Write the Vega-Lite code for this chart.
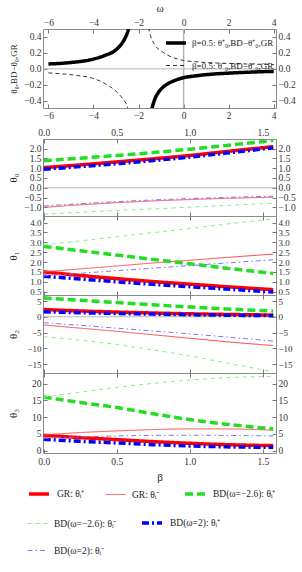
{
"$schema":"https://vega.github.io/schema/vega-lite/v6.json",
"background":"white",
"padding":{"left":6,"right":2,"top":1,"bottom":2},
"config":{
 "font":"Liberation Serif",
 "view":{"stroke":"#8c8c8c","strokeWidth":1},
 "axis":{"labelFont":"Liberation Serif","labelFontSize":9.5,"labelColor":"#333","titleFont":"Liberation Serif","titleFontSize":11,"titleFontWeight":"normal","titleColor":"#222","grid":false,"domain":false,"tickColor":"#777","tickSize":-4,"labelPadding":6,"labelFlush":false,"labelOverlap":false},
 "axisLeft":{"minExtent":20,"maxExtent":20,"titlePadding":5},
 "legend":{"labelFont":"Liberation Serif","labelFontSize":9.5,"labelColor":"#222","symbolType":"stroke","symbolSize":400,"padding":0,"layout":{"bottom":{"anchor":"end","direction":"vertical","margin":10,"bounds":"flush"}}}
},
"datasets":{
"w":[
{"c":"p","g":1,"w":-6,"v":0.062},{"c":"p","g":1,"w":-5,"v":0.08},{"c":"p","g":1,"w":-4,"v":0.123},{"c":"p","g":1,"w":-3.5,"v":0.168},{"c":"p","g":1,"w":-3,"v":0.24},{"c":"p","g":1,"w":-2.75,"v":0.315},{"c":"p","g":1,"w":-2.6,"v":0.385},{"c":"p","g":1,"w":-2.5,"v":0.45},{"c":"p","g":1,"w":-2.42,"v":0.52},
{"c":"p","g":2,"w":-1.42,"v":-0.51},{"c":"p","g":2,"w":-1.35,"v":-0.44},{"c":"p","g":2,"w":-1.25,"v":-0.36},{"c":"p","g":2,"w":-1.13,"v":-0.3},{"c":"p","g":2,"w":-1,"v":-0.253},{"c":"p","g":2,"w":-0.75,"v":-0.195},{"c":"p","g":2,"w":-0.5,"v":-0.158},{"c":"p","g":2,"w":-0.25,"v":-0.13},{"c":"p","g":2,"w":0,"v":-0.11},{"c":"p","g":2,"w":0.5,"v":-0.088},{"c":"p","g":2,"w":1,"v":-0.072},{"c":"p","g":2,"w":1.5,"v":-0.061},{"c":"p","g":2,"w":2,"v":-0.053},{"c":"p","g":2,"w":2.5,"v":-0.046},{"c":"p","g":2,"w":3,"v":-0.04},{"c":"p","g":2,"w":3.5,"v":-0.035},{"c":"p","g":2,"w":4,"v":-0.031},
{"c":"m","g":1,"w":-6,"v":-0.05},{"c":"m","g":1,"w":-5.4,"v":-0.062},{"c":"m","g":1,"w":-4.7,"v":-0.083},{"c":"m","g":1,"w":-4,"v":-0.12},{"c":"m","g":1,"w":-3.45,"v":-0.19},{"c":"m","g":1,"w":-3,"v":-0.28},{"c":"m","g":1,"w":-2.7,"v":-0.375},{"c":"m","g":1,"w":-2.5,"v":-0.47},{"c":"m","g":1,"w":-2.45,"v":-0.52},
{"c":"m","g":2,"w":-1.56,"v":0.52},{"c":"m","g":2,"w":-1.45,"v":0.4},{"c":"m","g":2,"w":-1.3,"v":0.31},{"c":"m","g":2,"w":-1.13,"v":0.25},{"c":"m","g":2,"w":-1,"v":0.225},{"c":"m","g":2,"w":-0.76,"v":0.18},{"c":"m","g":2,"w":-0.5,"v":0.145},{"c":"m","g":2,"w":-0.25,"v":0.122},{"c":"m","g":2,"w":0,"v":0.105},{"c":"m","g":2,"w":0.5,"v":0.09},{"c":"m","g":2,"w":1,"v":0.08},{"c":"m","g":2,"w":1.5,"v":0.073},{"c":"m","g":2,"w":2,"v":0.068},{"c":"m","g":2,"w":2.5,"v":0.064},{"c":"m","g":2,"w":3,"v":0.06},{"c":"m","g":2,"w":3.5,"v":0.057},{"c":"m","g":2,"w":4,"v":0.055}
],
"t":[
{"p":0,"s":"GR: θᵢ⁺","b":0,"v":1.03},{"p":0,"s":"GR: θᵢ⁺","b":0.25,"v":1.17},{"p":0,"s":"GR: θᵢ⁺","b":0.5,"v":1.32},{"p":0,"s":"GR: θᵢ⁺","b":0.75,"v":1.48},{"p":0,"s":"GR: θᵢ⁺","b":1,"v":1.65},{"p":0,"s":"GR: θᵢ⁺","b":1.25,"v":1.85},{"p":0,"s":"GR: θᵢ⁺","b":1.571,"v":2.1},
{"p":0,"s":"GR: θᵢ⁻","b":0,"v":-1.0},{"p":0,"s":"GR: θᵢ⁻","b":0.25,"v":-0.87},{"p":0,"s":"GR: θᵢ⁻","b":0.5,"v":-0.76},{"p":0,"s":"GR: θᵢ⁻","b":0.75,"v":-0.67},{"p":0,"s":"GR: θᵢ⁻","b":1,"v":-0.6},{"p":0,"s":"GR: θᵢ⁻","b":1.25,"v":-0.54},{"p":0,"s":"GR: θᵢ⁻","b":1.571,"v":-0.48},
{"p":0,"s":"BD(ω=−2.6): θᵢ⁺","b":0,"v":1.38},{"p":0,"s":"BD(ω=−2.6): θᵢ⁺","b":0.25,"v":1.51},{"p":0,"s":"BD(ω=−2.6): θᵢ⁺","b":0.5,"v":1.65},{"p":0,"s":"BD(ω=−2.6): θᵢ⁺","b":0.75,"v":1.8},{"p":0,"s":"BD(ω=−2.6): θᵢ⁺","b":1,"v":1.97},{"p":0,"s":"BD(ω=−2.6): θᵢ⁺","b":1.25,"v":2.16},{"p":0,"s":"BD(ω=−2.6): θᵢ⁺","b":1.571,"v":2.42},
{"p":0,"s":"BD(ω=−2.6): θᵢ⁻","b":0,"v":-1.35},{"p":0,"s":"BD(ω=−2.6): θᵢ⁻","b":0.25,"v":-1.25},{"p":0,"s":"BD(ω=−2.6): θᵢ⁻","b":0.5,"v":-1.16},{"p":0,"s":"BD(ω=−2.6): θᵢ⁻","b":0.75,"v":-1.08},{"p":0,"s":"BD(ω=−2.6): θᵢ⁻","b":1,"v":-0.99},{"p":0,"s":"BD(ω=−2.6): θᵢ⁻","b":1.25,"v":-0.9},{"p":0,"s":"BD(ω=−2.6): θᵢ⁻","b":1.571,"v":-0.79},
{"p":0,"s":"BD(ω=2): θᵢ⁺","b":0,"v":0.95},{"p":0,"s":"BD(ω=2): θᵢ⁺","b":0.25,"v":1.08},{"p":0,"s":"BD(ω=2): θᵢ⁺","b":0.5,"v":1.23},{"p":0,"s":"BD(ω=2): θᵢ⁺","b":0.75,"v":1.39},{"p":0,"s":"BD(ω=2): θᵢ⁺","b":1,"v":1.57},{"p":0,"s":"BD(ω=2): θᵢ⁺","b":1.25,"v":1.77},{"p":0,"s":"BD(ω=2): θᵢ⁺","b":1.571,"v":2.04},
{"p":0,"s":"BD(ω=2): θᵢ⁻","b":0,"v":-0.93},{"p":0,"s":"BD(ω=2): θᵢ⁻","b":0.25,"v":-0.81},{"p":0,"s":"BD(ω=2): θᵢ⁻","b":0.5,"v":-0.71},{"p":0,"s":"BD(ω=2): θᵢ⁻","b":0.75,"v":-0.62},{"p":0,"s":"BD(ω=2): θᵢ⁻","b":1,"v":-0.55},{"p":0,"s":"BD(ω=2): θᵢ⁻","b":1.25,"v":-0.49},{"p":0,"s":"BD(ω=2): θᵢ⁻","b":1.571,"v":-0.43},
{"p":1,"s":"GR: θᵢ⁺","b":0,"v":1.5},{"p":1,"s":"GR: θᵢ⁺","b":0.25,"v":1.32},{"p":1,"s":"GR: θᵢ⁺","b":0.5,"v":1.16},{"p":1,"s":"GR: θᵢ⁺","b":0.75,"v":1.01},{"p":1,"s":"GR: θᵢ⁺","b":1,"v":0.88},{"p":1,"s":"GR: θᵢ⁺","b":1.25,"v":0.75},{"p":1,"s":"GR: θᵢ⁺","b":1.571,"v":0.6},
{"p":1,"s":"GR: θᵢ⁻","b":0,"v":1.5},{"p":1,"s":"GR: θᵢ⁻","b":0.25,"v":1.65},{"p":1,"s":"GR: θᵢ⁻","b":0.5,"v":1.8},{"p":1,"s":"GR: θᵢ⁻","b":0.75,"v":1.95},{"p":1,"s":"GR: θᵢ⁻","b":1,"v":2.09},{"p":1,"s":"GR: θᵢ⁻","b":1.25,"v":2.23},{"p":1,"s":"GR: θᵢ⁻","b":1.571,"v":2.4},
{"p":1,"s":"BD(ω=−2.6): θᵢ⁺","b":0,"v":2.79},{"p":1,"s":"BD(ω=−2.6): θᵢ⁺","b":0.25,"v":2.57},{"p":1,"s":"BD(ω=−2.6): θᵢ⁺","b":0.5,"v":2.35},{"p":1,"s":"BD(ω=−2.6): θᵢ⁺","b":0.75,"v":2.13},{"p":1,"s":"BD(ω=−2.6): θᵢ⁺","b":1,"v":1.91},{"p":1,"s":"BD(ω=−2.6): θᵢ⁺","b":1.25,"v":1.69},{"p":1,"s":"BD(ω=−2.6): θᵢ⁺","b":1.571,"v":1.42},
{"p":1,"s":"BD(ω=−2.6): θᵢ⁻","b":0,"v":2.86},{"p":1,"s":"BD(ω=−2.6): θᵢ⁻","b":0.25,"v":3.07},{"p":1,"s":"BD(ω=−2.6): θᵢ⁻","b":0.5,"v":3.28},{"p":1,"s":"BD(ω=−2.6): θᵢ⁻","b":0.75,"v":3.49},{"p":1,"s":"BD(ω=−2.6): θᵢ⁻","b":1,"v":3.7},{"p":1,"s":"BD(ω=−2.6): θᵢ⁻","b":1.25,"v":3.92},{"p":1,"s":"BD(ω=−2.6): θᵢ⁻","b":1.571,"v":4.18},
{"p":1,"s":"BD(ω=2): θᵢ⁺","b":0,"v":1.28},{"p":1,"s":"BD(ω=2): θᵢ⁺","b":0.25,"v":1.14},{"p":1,"s":"BD(ω=2): θᵢ⁺","b":0.5,"v":1.0},{"p":1,"s":"BD(ω=2): θᵢ⁺","b":0.75,"v":0.87},{"p":1,"s":"BD(ω=2): θᵢ⁺","b":1,"v":0.75},{"p":1,"s":"BD(ω=2): θᵢ⁺","b":1.25,"v":0.63},{"p":1,"s":"BD(ω=2): θᵢ⁺","b":1.571,"v":0.48},
{"p":1,"s":"BD(ω=2): θᵢ⁻","b":0,"v":1.3},{"p":1,"s":"BD(ω=2): θᵢ⁻","b":0.25,"v":1.43},{"p":1,"s":"BD(ω=2): θᵢ⁻","b":0.5,"v":1.56},{"p":1,"s":"BD(ω=2): θᵢ⁻","b":0.75,"v":1.69},{"p":1,"s":"BD(ω=2): θᵢ⁻","b":1,"v":1.82},{"p":1,"s":"BD(ω=2): θᵢ⁻","b":1.25,"v":1.95},{"p":1,"s":"BD(ω=2): θᵢ⁻","b":1.571,"v":2.11},
{"p":2,"s":"GR: θᵢ⁺","b":0,"v":2.3},{"p":2,"s":"GR: θᵢ⁺","b":0.25,"v":1.85},{"p":2,"s":"GR: θᵢ⁺","b":0.5,"v":1.5},{"p":2,"s":"GR: θᵢ⁺","b":0.75,"v":1.2},{"p":2,"s":"GR: θᵢ⁺","b":1,"v":0.95},{"p":2,"s":"GR: θᵢ⁺","b":1.25,"v":0.75},{"p":2,"s":"GR: θᵢ⁺","b":1.571,"v":0.55},
{"p":2,"s":"GR: θᵢ⁻","b":0,"v":-2.6},{"p":2,"s":"GR: θᵢ⁻","b":0.25,"v":-3.6},{"p":2,"s":"GR: θᵢ⁻","b":0.5,"v":-4.6},{"p":2,"s":"GR: θᵢ⁻","b":0.75,"v":-5.7},{"p":2,"s":"GR: θᵢ⁻","b":1,"v":-6.8},{"p":2,"s":"GR: θᵢ⁻","b":1.25,"v":-7.9},{"p":2,"s":"GR: θᵢ⁻","b":1.571,"v":-9.1},
{"p":2,"s":"BD(ω=−2.6): θᵢ⁺","b":0,"v":6.0},{"p":2,"s":"BD(ω=−2.6): θᵢ⁺","b":0.25,"v":5.2},{"p":2,"s":"BD(ω=−2.6): θᵢ⁺","b":0.5,"v":4.5},{"p":2,"s":"BD(ω=−2.6): θᵢ⁺","b":0.75,"v":3.8},{"p":2,"s":"BD(ω=−2.6): θᵢ⁺","b":1,"v":3.1},{"p":2,"s":"BD(ω=−2.6): θᵢ⁺","b":1.25,"v":2.5},{"p":2,"s":"BD(ω=−2.6): θᵢ⁺","b":1.571,"v":1.8},
{"p":2,"s":"BD(ω=−2.6): θᵢ⁻","b":0,"v":-6.3},{"p":2,"s":"BD(ω=−2.6): θᵢ⁻","b":0.25,"v":-7.4},{"p":2,"s":"BD(ω=−2.6): θᵢ⁻","b":0.5,"v":-8.8},{"p":2,"s":"BD(ω=−2.6): θᵢ⁻","b":0.75,"v":-10.5},{"p":2,"s":"BD(ω=−2.6): θᵢ⁻","b":1,"v":-12.4},{"p":2,"s":"BD(ω=−2.6): θᵢ⁻","b":1.25,"v":-14.6},{"p":2,"s":"BD(ω=−2.6): θᵢ⁻","b":1.571,"v":-17.4},
{"p":2,"s":"BD(ω=2): θᵢ⁺","b":0,"v":1.6},{"p":2,"s":"BD(ω=2): θᵢ⁺","b":0.25,"v":1.3},{"p":2,"s":"BD(ω=2): θᵢ⁺","b":0.5,"v":1.05},{"p":2,"s":"BD(ω=2): θᵢ⁺","b":0.75,"v":0.85},{"p":2,"s":"BD(ω=2): θᵢ⁺","b":1,"v":0.65},{"p":2,"s":"BD(ω=2): θᵢ⁺","b":1.25,"v":0.5},{"p":2,"s":"BD(ω=2): θᵢ⁺","b":1.571,"v":0.35},
{"p":2,"s":"BD(ω=2): θᵢ⁻","b":0,"v":-1.9},{"p":2,"s":"BD(ω=2): θᵢ⁻","b":0.25,"v":-2.7},{"p":2,"s":"BD(ω=2): θᵢ⁻","b":0.5,"v":-3.6},{"p":2,"s":"BD(ω=2): θᵢ⁻","b":0.75,"v":-4.5},{"p":2,"s":"BD(ω=2): θᵢ⁻","b":1,"v":-5.4},{"p":2,"s":"BD(ω=2): θᵢ⁻","b":1.25,"v":-6.4},{"p":2,"s":"BD(ω=2): θᵢ⁻","b":1.571,"v":-7.7},
{"p":3,"s":"GR: θᵢ⁺","b":0,"v":4.6},{"p":3,"s":"GR: θᵢ⁺","b":0.25,"v":3.9},{"p":3,"s":"GR: θᵢ⁺","b":0.5,"v":3.3},{"p":3,"s":"GR: θᵢ⁺","b":0.75,"v":2.7},{"p":3,"s":"GR: θᵢ⁺","b":1,"v":2.2},{"p":3,"s":"GR: θᵢ⁺","b":1.25,"v":1.8},{"p":3,"s":"GR: θᵢ⁺","b":1.571,"v":1.5},
{"p":3,"s":"GR: θᵢ⁻","b":0,"v":4.7},{"p":3,"s":"GR: θᵢ⁻","b":0.25,"v":5.4},{"p":3,"s":"GR: θᵢ⁻","b":0.5,"v":5.9},{"p":3,"s":"GR: θᵢ⁻","b":0.75,"v":6.3},{"p":3,"s":"GR: θᵢ⁻","b":1,"v":6.5},{"p":3,"s":"GR: θᵢ⁻","b":1.25,"v":6.5},{"p":3,"s":"GR: θᵢ⁻","b":1.571,"v":6.1},
{"p":3,"s":"BD(ω=−2.6): θᵢ⁺","b":0,"v":16.0},{"p":3,"s":"BD(ω=−2.6): θᵢ⁺","b":0.25,"v":14.4},{"p":3,"s":"BD(ω=−2.6): θᵢ⁺","b":0.5,"v":12.9},{"p":3,"s":"BD(ω=−2.6): θᵢ⁺","b":0.75,"v":11.0},{"p":3,"s":"BD(ω=−2.6): θᵢ⁺","b":1,"v":9.3},{"p":3,"s":"BD(ω=−2.6): θᵢ⁺","b":1.25,"v":7.9},{"p":3,"s":"BD(ω=−2.6): θᵢ⁺","b":1.571,"v":6.5},
{"p":3,"s":"BD(ω=−2.6): θᵢ⁻","b":0,"v":16.0},{"p":3,"s":"BD(ω=−2.6): θᵢ⁻","b":0.25,"v":17.5},{"p":3,"s":"BD(ω=−2.6): θᵢ⁻","b":0.5,"v":18.9},{"p":3,"s":"BD(ω=−2.6): θᵢ⁻","b":0.75,"v":20.1},{"p":3,"s":"BD(ω=−2.6): θᵢ⁻","b":1,"v":21.1},{"p":3,"s":"BD(ω=−2.6): θᵢ⁻","b":1.25,"v":21.8},{"p":3,"s":"BD(ω=−2.6): θᵢ⁻","b":1.571,"v":22.2},
{"p":3,"s":"BD(ω=2): θᵢ⁺","b":0,"v":3.4},{"p":3,"s":"BD(ω=2): θᵢ⁺","b":0.25,"v":2.8},{"p":3,"s":"BD(ω=2): θᵢ⁺","b":0.5,"v":2.3},{"p":3,"s":"BD(ω=2): θᵢ⁺","b":0.75,"v":1.8},{"p":3,"s":"BD(ω=2): θᵢ⁺","b":1,"v":1.4},{"p":3,"s":"BD(ω=2): θᵢ⁺","b":1.25,"v":1.15},{"p":3,"s":"BD(ω=2): θᵢ⁺","b":1.571,"v":1.0},
{"p":3,"s":"BD(ω=2): θᵢ⁻","b":0,"v":3.7},{"p":3,"s":"BD(ω=2): θᵢ⁻","b":0.25,"v":4.1},{"p":3,"s":"BD(ω=2): θᵢ⁻","b":0.5,"v":4.4},{"p":3,"s":"BD(ω=2): θᵢ⁻","b":0.75,"v":4.55},{"p":3,"s":"BD(ω=2): θᵢ⁻","b":1,"v":4.6},{"p":3,"s":"BD(ω=2): θᵢ⁻","b":1.25,"v":4.55},{"p":3,"s":"BD(ω=2): θᵢ⁻","b":1.571,"v":4.4}
]},
"spacing":6,
"resolve":{"scale":{"x":"independent","color":"independent","strokeDash":"independent","strokeWidth":"independent"}},
"vconcat":[
{"width":233,"height":79,
 "layer":[
  {"data":{"values":[{}]},"mark":{"type":"rule","color":"#b4b4b4","strokeWidth":1},
   "encoding":{"y":{"datum":0,"type":"quantitative","scale":{"domain":[-0.49,0.5],"nice":false,"zero":false},"axis":{"orient":"right","values":[-0.4,-0.2,0,0.2,0.4],"format":".1f","title":null}}}},
  {"data":{"values":[{}]},"mark":{"type":"rule","color":"#b4b4b4","strokeWidth":1.5},
   "encoding":{"x":{"datum":0,"type":"quantitative","scale":{"domain":[-6.24,4.1],"nice":false,"zero":false},"axis":{"orient":"top","values":[-6,-4,-2,0,2,4],"title":"ω","titlePadding":4}}}},
  {"data":{"name":"w"},"mark":{"type":"line","color":"black","clip":true,"interpolate":"monotone"},
   "encoding":{
    "x":{"field":"w","type":"quantitative","scale":{"domain":[-6.24,4.1],"nice":false,"zero":false},"axis":{"orient":"bottom","values":[-6,-4,-2,0,2,4],"title":null}},
    "y":{"field":"v","type":"quantitative","scale":{"domain":[-0.49,0.5],"nice":false,"zero":false},"axis":{"orient":"left","values":[-0.4,-0.2,0,0.2,0.4],"format":".1f","title":"θ₀,BD−θ₀,GR","titleFontSize":9}},
    "detail":{"field":"g"},
    "strokeDash":{"field":"c","type":"nominal","scale":{"domain":["p","m"],"range":[[1,0],[4,3]]},"legend":{"orient":"top-right","title":null,"offset":2,"padding":0,"rowPadding":5,"labelOffset":4,"labelFontSize":9,"symbolStrokeColor":"black","labelExpr":"datum.label=='p' ? 'β=0.5: θ⁺₀,BD−θ⁺₀,GR' : 'β=0.5: θ⁻₀,BD−θ⁻₀,GR'"}},
    "strokeWidth":{"field":"c","type":"nominal","scale":{"type":"ordinal","domain":["p","m"],"range":[3.5,0.8]}}
   }}
 ],
 "resolve":{"axis":{"x":"independent","y":"independent"}}
},
{"bounds":"flush","spacing":0,
 "vconcat":[
 {"width":233,"height":77,
  "layer":[
   {"data":{"values":[{}]},"mark":{"type":"rule","color":"#b4b4b4","strokeWidth":1},
    "encoding":{
     "x":{"datum":0,"type":"quantitative","scale":{"domain":[-0.005,1.59],"nice":false,"zero":false},"axis":{"orient":"top","values":[0,0.5,1,1.5],"format":".1f","title":null}},
     "x2":{"datum":1.59},
     "y":{"datum":0,"type":"quantitative","scale":{"domain":[-1.44,2.49],"nice":false,"zero":false},"axis":{"orient":"right","values":[-1,-0.5,0,0.5,1,1.5,2],"format":".1f","title":null}}}},
   {"data":{"name":"t"},"transform":[{"filter":"datum.p==0"}],"mark":{"type":"line","interpolate":"monotone","clip":true},
    "encoding":{
     "x":{"field":"b","type":"quantitative","scale":{"domain":[-0.005,1.59],"nice":false,"zero":false},"axis":{"orient":"bottom","values":[0,0.5,1,1.5],"labels":false,"title":null}},
     "y":{"field":"v","type":"quantitative","scale":{"domain":[-1.44,2.49],"nice":false,"zero":false},"axis":{"orient":"left","values":[-1,-0.5,0,0.5,1,1.5,2],"format":".1f","title":"θ₀"}},
     "color":{"field":"s","type":"nominal","scale":{"domain":["GR: θᵢ⁺","GR: θᵢ⁻","BD(ω=−2.6): θᵢ⁺","BD(ω=−2.6): θᵢ⁻","BD(ω=2): θᵢ⁺","BD(ω=2): θᵢ⁻"],"range":["#ff0000","#ff4444","#22dd22","#88ee88","#0000ff","#7777ff"]},"legend":null},
     "strokeDash":{"field":"s","type":"nominal","scale":{"domain":["GR: θᵢ⁺","GR: θᵢ⁻","BD(ω=−2.6): θᵢ⁺","BD(ω=−2.6): θᵢ⁻","BD(ω=2): θᵢ⁺","BD(ω=2): θᵢ⁻"],"range":[[1,0],[1,0],[8,4],[4,4],[7,3,2,3],[5,3,1.5,3]]},"legend":null},
     "strokeWidth":{"field":"s","type":"nominal","scale":{"type":"ordinal","domain":["GR: θᵢ⁺","GR: θᵢ⁻","BD(ω=−2.6): θᵢ⁺","BD(ω=−2.6): θᵢ⁻","BD(ω=2): θᵢ⁺","BD(ω=2): θᵢ⁻"],"range":[3.5,1,3.5,1,3.5,1]},"legend":null}}}
  ],
  "resolve":{"axis":{"x":"independent","y":"independent"}}
 },
 {"width":233,"height":79,
  "layer":[
   {"data":{"values":[{}]},"mark":{"type":"rule","opacity":0},
    "encoding":{
     "x":{"datum":0,"type":"quantitative","scale":{"domain":[-0.005,1.59],"nice":false,"zero":false},"axis":{"orient":"top","values":[0,0.5,1,1.5],"labels":false,"title":null}},
     "x2":{"datum":1.59},
     "y":{"datum":1,"type":"quantitative","scale":{"domain":[0.33,4.33],"nice":false,"zero":false},"axis":{"orient":"right","values":[0.5,1,1.5,2,2.5,3,3.5,4],"format":".1f","title":null,"labelFontSize":9}}}},
   {"data":{"name":"t"},"transform":[{"filter":"datum.p==1"}],"mark":{"type":"line","interpolate":"monotone","clip":true},
    "encoding":{
     "x":{"field":"b","type":"quantitative","scale":{"domain":[-0.005,1.59],"nice":false,"zero":false},"axis":{"orient":"bottom","values":[0,0.5,1,1.5],"labels":false,"title":null}},
     "y":{"field":"v","type":"quantitative","scale":{"domain":[0.33,4.33],"nice":false,"zero":false},"axis":{"orient":"left","values":[0.5,1,1.5,2,2.5,3,3.5,4],"format":".1f","title":"θ₁","labelFontSize":9}},
     "color":{"field":"s","type":"nominal","scale":{"domain":["GR: θᵢ⁺","GR: θᵢ⁻","BD(ω=−2.6): θᵢ⁺","BD(ω=−2.6): θᵢ⁻","BD(ω=2): θᵢ⁺","BD(ω=2): θᵢ⁻"],"range":["#ff0000","#ff4444","#22dd22","#88ee88","#0000ff","#7777ff"]},"legend":null},
     "strokeDash":{"field":"s","type":"nominal","scale":{"domain":["GR: θᵢ⁺","GR: θᵢ⁻","BD(ω=−2.6): θᵢ⁺","BD(ω=−2.6): θᵢ⁻","BD(ω=2): θᵢ⁺","BD(ω=2): θᵢ⁻"],"range":[[1,0],[1,0],[8,4],[4,4],[7,3,2,3],[5,3,1.5,3]]},"legend":null},
     "strokeWidth":{"field":"s","type":"nominal","scale":{"type":"ordinal","domain":["GR: θᵢ⁺","GR: θᵢ⁻","BD(ω=−2.6): θᵢ⁺","BD(ω=−2.6): θᵢ⁻","BD(ω=2): θᵢ⁺","BD(ω=2): θᵢ⁻"],"range":[3.5,1,3.5,1,3.5,1]},"legend":null}}}
  ],
  "resolve":{"axis":{"x":"independent","y":"independent"}}
 },
 {"width":233,"height":78,
  "layer":[
   {"data":{"values":[{}]},"mark":{"type":"rule","color":"#b4b4b4","strokeWidth":1},
    "encoding":{
     "x":{"datum":0,"type":"quantitative","scale":{"domain":[-0.005,1.59],"nice":false,"zero":false},"axis":{"orient":"top","values":[0,0.5,1,1.5],"labels":false,"title":null}},
     "x2":{"datum":1.59},
     "y":{"datum":0,"type":"quantitative","scale":{"domain":[-17.8,6.9],"nice":false,"zero":false},"axis":{"orient":"right","values":[-15,-10,-5,0,5],"title":null,"labelFontSize":9}}}},
   {"data":{"name":"t"},"transform":[{"filter":"datum.p==2"}],"mark":{"type":"line","interpolate":"monotone","clip":true},
    "encoding":{
     "x":{"field":"b","type":"quantitative","scale":{"domain":[-0.005,1.59],"nice":false,"zero":false},"axis":{"orient":"bottom","values":[0,0.5,1,1.5],"labels":false,"title":null}},
     "y":{"field":"v","type":"quantitative","scale":{"domain":[-17.8,6.9],"nice":false,"zero":false},"axis":{"orient":"left","values":[-15,-10,-5,0,5],"title":"θ₂","labelFontSize":9}},
     "color":{"field":"s","type":"nominal","scale":{"domain":["GR: θᵢ⁺","GR: θᵢ⁻","BD(ω=−2.6): θᵢ⁺","BD(ω=−2.6): θᵢ⁻","BD(ω=2): θᵢ⁺","BD(ω=2): θᵢ⁻"],"range":["#ff0000","#ff4444","#22dd22","#88ee88","#0000ff","#7777ff"]},"legend":null},
     "strokeDash":{"field":"s","type":"nominal","scale":{"domain":["GR: θᵢ⁺","GR: θᵢ⁻","BD(ω=−2.6): θᵢ⁺","BD(ω=−2.6): θᵢ⁻","BD(ω=2): θᵢ⁺","BD(ω=2): θᵢ⁻"],"range":[[1,0],[1,0],[8,4],[4,4],[7,3,2,3],[5,3,1.5,3]]},"legend":null},
     "strokeWidth":{"field":"s","type":"nominal","scale":{"type":"ordinal","domain":["GR: θᵢ⁺","GR: θᵢ⁻","BD(ω=−2.6): θᵢ⁺","BD(ω=−2.6): θᵢ⁻","BD(ω=2): θᵢ⁺","BD(ω=2): θᵢ⁻"],"range":[3.5,1,3.5,1,3.5,1]},"legend":null}}}
  ],
  "resolve":{"axis":{"x":"independent","y":"independent"}}
 },
 {"width":233,"height":80,
  "layer":[
   {"data":{"values":[{}]},"mark":{"type":"rule","opacity":0},
    "encoding":{
     "x":{"datum":0,"type":"quantitative","scale":{"domain":[-0.005,1.59],"nice":false,"zero":false},"axis":{"orient":"top","values":[0,0.5,1,1.5],"labels":false,"title":null}},
     "x2":{"datum":1.59},
     "y":{"datum":5,"type":"quantitative","scale":{"domain":[-0.7,23.2],"nice":false,"zero":false},"axis":{"orient":"right","values":[0,5,10,15,20],"title":null}}}},
   {"data":{"name":"t"},"transform":[{"filter":"datum.p==3"},{"filter":{"field":"s","oneOf":["GR: θᵢ⁺","GR: θᵢ⁻","BD(ω=−2.6): θᵢ⁺"]}}],"mark":{"type":"line","interpolate":"monotone","clip":true},
    "encoding":{
     "x":{"field":"b","type":"quantitative","scale":{"domain":[-0.005,1.59],"nice":false,"zero":false},"axis":{"orient":"bottom","values":[0,0.5,1,1.5],"format":".1f","title":"β","titlePadding":6,"labelPadding":7}},
     "y":{"field":"v","type":"quantitative","scale":{"domain":[-0.7,23.2],"nice":false,"zero":false},"axis":{"orient":"left","values":[0,5,10,15,20],"title":"θ₃"}},
     "color":{"field":"s","type":"nominal","scale":{"domain":["GR: θᵢ⁺","GR: θᵢ⁻","BD(ω=−2.6): θᵢ⁺"],"range":["#ff0000","#ff4444","#22dd22"]},"legend":{"orient":"bottom","direction":"horizontal","title":null,"columnPadding":18,"labelOffset":6,"offset":-1}},
     "strokeDash":{"field":"s","type":"nominal","scale":{"domain":["GR: θᵢ⁺","GR: θᵢ⁻","BD(ω=−2.6): θᵢ⁺"],"range":[[1,0],[1,0],[8,4]]}},
     "strokeWidth":{"field":"s","type":"nominal","scale":{"type":"ordinal","domain":["GR: θᵢ⁺","GR: θᵢ⁻","BD(ω=−2.6): θᵢ⁺"],"range":[3.5,1,3.5]}}}},
   {"data":{"name":"t"},"transform":[{"filter":"datum.p==3"},{"filter":{"field":"s","oneOf":["BD(ω=−2.6): θᵢ⁻","BD(ω=2): θᵢ⁺"]}}],"mark":{"type":"line","interpolate":"monotone","clip":true},
    "encoding":{
     "x":{"field":"b","type":"quantitative","scale":{"domain":[-0.005,1.59],"nice":false,"zero":false},"axis":null},
     "y":{"field":"v","type":"quantitative","scale":{"domain":[-0.7,23.2],"nice":false,"zero":false},"axis":null},
     "color":{"field":"s","type":"nominal","scale":{"domain":["BD(ω=−2.6): θᵢ⁻","BD(ω=2): θᵢ⁺"],"range":["#88ee88","#0000ff"]},"legend":{"orient":"bottom","direction":"horizontal","title":null,"columnPadding":18,"labelOffset":6,"offset":-1}},
     "strokeDash":{"field":"s","type":"nominal","scale":{"domain":["BD(ω=−2.6): θᵢ⁻","BD(ω=2): θᵢ⁺"],"range":[[4,4],[7,3,2,3]]}},
     "strokeWidth":{"field":"s","type":"nominal","scale":{"type":"ordinal","domain":["BD(ω=−2.6): θᵢ⁻","BD(ω=2): θᵢ⁺"],"range":[1,3.5]}}}},
   {"data":{"name":"t"},"transform":[{"filter":"datum.p==3"},{"filter":{"field":"s","oneOf":["BD(ω=2): θᵢ⁻"]}}],"mark":{"type":"line","interpolate":"monotone","clip":true},
    "encoding":{
     "x":{"field":"b","type":"quantitative","scale":{"domain":[-0.005,1.59],"nice":false,"zero":false},"axis":null},
     "y":{"field":"v","type":"quantitative","scale":{"domain":[-0.7,23.2],"nice":false,"zero":false},"axis":null},
     "color":{"field":"s","type":"nominal","scale":{"domain":["BD(ω=2): θᵢ⁻"],"range":["#7777ff"]},"legend":{"orient":"bottom","direction":"horizontal","title":null,"columnPadding":18,"labelOffset":6,"offset":-1}},
     "strokeDash":{"field":"s","type":"nominal","scale":{"domain":["BD(ω=2): θᵢ⁻"],"range":[[5,3,1.5,3]]}},
     "strokeWidth":{"field":"s","type":"nominal","scale":{"type":"ordinal","domain":["BD(ω=2): θᵢ⁻"],"range":[1]}}}}
  ],
  "resolve":{"scale":{"color":"independent","strokeDash":"independent","strokeWidth":"independent"},"axis":{"x":"independent","y":"independent"}}
 }
 ]}
]
}
